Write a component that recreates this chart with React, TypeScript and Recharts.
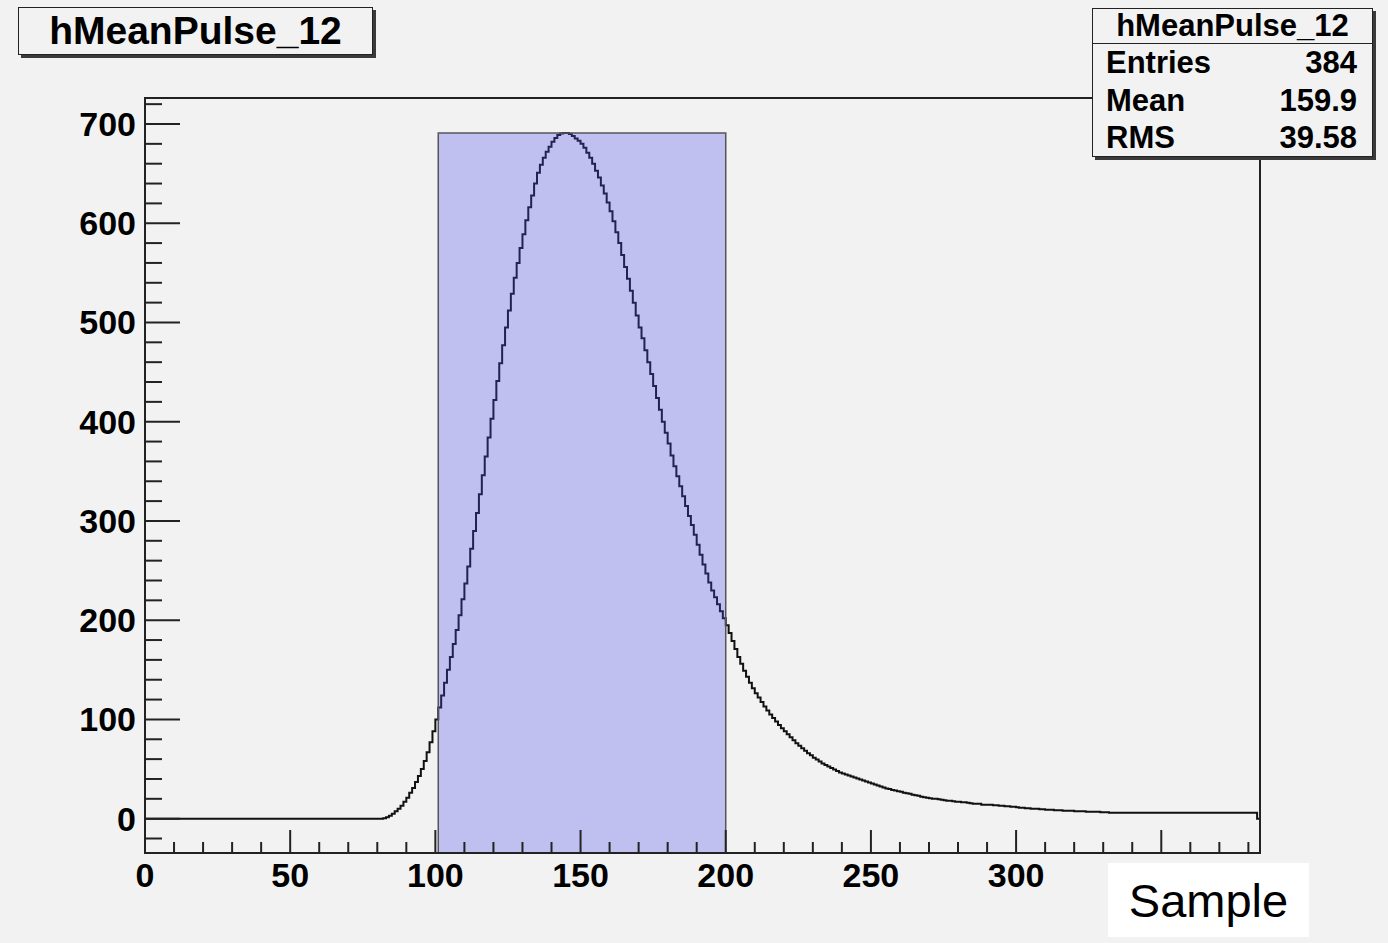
import { ComposedChart, Line, XAxis, YAxis, ReferenceArea } from 'recharts';

// ROOT-style mean pulse histogram (hMeanPulse_12), 384 bins of width 1

const BG = '#f2f2f2';
const INK = '#222';
const FONT = '"Liberation Sans", Arial, Helvetica, sans-serif';

const HIST_NAME = 'hMeanPulse_12';
const STATS = [
  { label: 'Entries', value: '384' },
  { label: 'Mean', value: '159.9' },
  { label: 'RMS', value: '39.58' },
];

// bin contents (10 bins per row)
const BIN_COUNTS = [
  0, 0, 0, 0, 0, 0, 0, 0, 0, 0, // 0
  0, 0, 0, 0, 0, 0, 0, 0, 0, 0,
  0, 0, 0, 0, 0, 0, 0, 0, 0, 0,
  0, 0, 0, 0, 0, 0, 0, 0, 0, 0,
  0, 0, 0, 0, 0, 0, 0, 0, 0, 0,
  0, 0, 0, 0, 0, 0, 0, 0, 0, 0, // 50
  0, 0, 0, 0, 0, 0, 0, 0, 0, 0,
  0, 0, 0, 0, 0, 0, 0, 0, 0, 0,
  0, 0, 0.5, 1.5, 3, 5, 7.5, 10, 13, 17,
  21, 26, 31, 37, 43, 50, 58, 67, 77, 88,
  100, 112, 124, 137, 150, 163, 176, 190, 205, 221, // 100
  237, 254, 272, 290, 308, 327, 346, 365, 384, 403,
  422, 441, 459, 477, 495, 512, 529, 545, 560, 575,
  589, 603, 616, 628, 640, 651, 659, 666, 672, 677,
  682, 686, 689, 690.5, 691, 691, 690, 688, 685.5, 683,
  680, 676, 671, 666, 660, 653, 646, 638, 630, 621, // 150
  612, 602, 591, 580, 568, 556, 544, 532, 520, 507,
  495, 484, 472, 460, 448, 436, 424, 412, 400, 389,
  378, 366, 355, 345, 335, 325, 315, 305, 296, 286,
  276, 266, 256, 247, 238, 230, 223, 216, 209, 202,
  195, 187, 179, 171, 163, 156, 149, 143, 137, 131.5, // 200
  126.5, 122, 117.5, 113, 109, 105, 101.5, 98, 94.5, 91,
  88, 85, 82, 79, 76, 73.5, 71, 68.5, 66, 64,
  61.5, 59.5, 57.5, 55.5, 54, 52.5, 51, 49.5, 48, 46.5,
  45.5, 44.5, 43.5, 42.5, 41.5, 40.5, 39.5, 38.5, 37.5, 36.5,
  35.5, 34.5, 33.5, 32.5, 31.5, 30.5, 30, 29, 28.5, 27.5, // 250
  27, 26, 25.5, 25, 24, 23.5, 23, 22, 21.5, 21,
  20.5, 20, 20, 19.5, 19, 18.5, 18, 18, 17.5, 17,
  17, 16.5, 16.5, 16, 15.5, 15, 15, 15, 14, 14,
  14, 14, 13.5, 13.5, 13, 13, 12.5, 12.5, 12, 12,
  11.5, 11, 11, 10.5, 10.5, 10, 10, 10, 9.5, 9.5, // 300
  9, 9, 9, 8.5, 8.5, 8.5, 8, 8, 8, 8,
  7.5, 7.5, 7.5, 7.5, 7, 7, 7, 7, 7, 6.5,
  6.5, 6.5, 6, 6, 6, 6, 6, 6, 6, 6,
  6, 6, 6, 6, 6, 6, 6, 6, 6, 6,
  6, 6, 6, 6, 6, 6, 6, 6, 6, 6, // 350
  6, 6, 6, 6, 6, 6, 6, 6, 6, 6,
  6, 6, 6, 6, 6, 6, 6, 6, 6, 6,
  6, 6, 6, 0,
];

const X_RANGE = [0, 384];
const Y_RANGE = [-34.6, 726.2];
const X_TICKS = [
  0, 10, 20, 30, 40, 50, 60, 70, 80, 90, 100, 110, 120, 130, 140, 150, 160, 170, 180, 190,
  200, 210, 220, 230, 240, 250, 260, 270, 280, 290, 300, 310, 320, 330, 340, 350, 360, 370, 380,
];
const Y_TICKS = [
  -20, 0, 20, 40, 60, 80, 100, 120, 140, 160, 180, 200, 220, 240, 260, 280, 300, 320, 340, 360,
  380, 400, 420, 440, 460, 480, 500, 520, 540, 560, 580, 600, 620, 640, 660, 680, 700, 720,
];
// shaded integration window
const WINDOW = { from: 101, to: 200, top: 691 };

// step line needs a closing point at the right edge of the last bin
const data = [
  ...BIN_COUNTS.map((c, i) => ({ x: i, y: c })),
  { x: BIN_COUNTS.length, y: BIN_COUNTS[BIN_COUNTS.length - 1] },
];

const labelStyle = { fontFamily: FONT, fontWeight: 700, fontSize: 34, fill: '#000' };

// ROOT ticks point into the frame; majors are longer and carry the label
function YTick(p: any) {
  const v = p.payload.value;
  const major = v % 100 === 0;
  return (
    <g>
      <line x1={p.x} x2={p.x + (major ? 35 : 17)} y1={p.y} y2={p.y} stroke={INK} strokeWidth={2} />
      {major && (
        <text x={p.x - 9} y={p.y} textAnchor="end" dominantBaseline="central" style={labelStyle}>{v}</text>
      )}
    </g>
  );
}

function XTick(p: any) {
  const v = p.payload.value;
  const major = v % 50 === 0;
  return (
    <g>
      <line x1={p.x} x2={p.x} y1={p.y} y2={p.y - (major ? 23 : 11)} stroke={INK} strokeWidth={2} />
      {major && (
        <text x={p.x} y={p.y + 22} textAnchor="middle" dominantBaseline="central" style={labelStyle}>{v}</text>
      )}
    </g>
  );
}

const boxShadow = '3px 3px 0 #3a3a3a';

export default function App() {
  return (
    <div style={{ position: 'absolute', left: 0, top: 0, width: 1388, height: 943, background: BG, overflow: 'hidden' }}>
      <ComposedChart width={1388} height={943} data={data} margin={{ top: 98, right: 128, bottom: 50, left: 0 }}>
        <XAxis
          dataKey="x" type="number" domain={X_RANGE} ticks={X_TICKS} interval={0}
          height={40} tickSize={0} tickMargin={0} tickLine={false}
          axisLine={{ stroke: INK, strokeWidth: 2 }} tick={XTick}
        />
        <YAxis
          type="number" domain={Y_RANGE} ticks={Y_TICKS} interval={0} allowDataOverflow
          width={145} tickSize={0} tickMargin={0} tickLine={false}
          axisLine={{ stroke: INK, strokeWidth: 2 }} tick={YTick}
        />
        <Line
          dataKey="y" type="stepAfter" stroke="#111" strokeWidth={2}
          dot={false} activeDot={false} isAnimationActive={false}
        />
        <ReferenceArea
          x1={WINDOW.from} x2={WINDOW.to} y1={Y_RANGE[0]} y2={WINDOW.top}
          fill="rgb(75,75,235)" fillOpacity={0.3} stroke="#555" strokeWidth={1.5}
          zIndex={600}
        />
        <ReferenceArea
          x1={X_RANGE[0]} x2={X_RANGE[1]} y1={Y_RANGE[0]} y2={Y_RANGE[1]}
          fill="none" stroke={INK} strokeWidth={2} zIndex={700}
        />
      </ComposedChart>

      {/* title box */}
      <div style={{
        position: 'absolute', left: 18, top: 7, width: 355, height: 48, boxSizing: 'border-box',
        border: `1.5px solid ${INK}`, background: BG, boxShadow,
        fontFamily: FONT, fontWeight: 700, fontSize: 39, lineHeight: '46px', textAlign: 'center', color: '#000',
      }}>
        {HIST_NAME}
      </div>

      {/* stats box */}
      <div style={{
        position: 'absolute', left: 1092, top: 8, width: 281, height: 149, boxSizing: 'border-box',
        border: `1.5px solid ${INK}`, background: BG, boxShadow,
        fontFamily: FONT, fontWeight: 700, fontSize: 31, color: '#000',
      }}>
        <div style={{ height: 34, lineHeight: '34px', textAlign: 'center', borderBottom: `1.5px solid ${INK}` }}>
          {HIST_NAME}
        </div>
        {STATS.map((s) => (
          <div key={s.label} style={{ display: 'flex', justifyContent: 'space-between', padding: '0 15px 0 13px', height: 37.5, lineHeight: '38px' }}>
            <span>{s.label}</span>
            <span>{s.value}</span>
          </div>
        ))}
      </div>

      {/* axis title box, drawn over the 350 label as in the original */}
      <div style={{
        position: 'absolute', left: 1108, top: 863, width: 201, height: 74, background: '#fff',
        fontFamily: FONT, fontSize: 47, lineHeight: '76px', textAlign: 'center', color: '#000',
      }}>
        Sample
      </div>
    </div>
  );
}
